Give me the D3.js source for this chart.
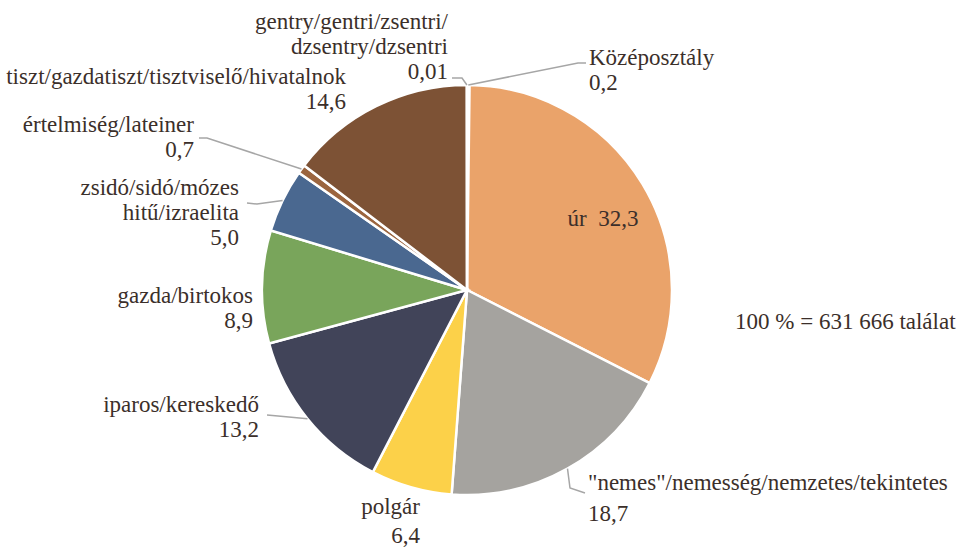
<!DOCTYPE html>
<meta charset="utf-8">
<html>
<head>
<style>
  body { margin: 0; background: #fff; }
</style>
<script src="https://d3js.org/d3.v7.min.js"></script>
</head>
<body>
<svg width="966" height="548"></svg>
<script>

// categories, clockwise from 12 o'clock
var categories = ["Középosztály", "úr", "\"nemes\"/nemesség/nemzetes/tekintetes", "polgár",
                  "iparos/kereskedő", "gazda/birtokos", "zsidó/sidó/mózes hitű/izraelita",
                  "értelmiség/lateiner", "tiszt/gazdatiszt/tisztviselő/hivatalnok",
                  "gentry/gentri/zsentri/dzsentry/dzsentri"];
var shares = [0.2, 32.3, 18.7, 6.4, 13.2, 8.9, 5.0, 0.7, 14.6, 0.01];
var valueLabels = ["0,2", "32,3", "18,7", "6,4", "13,2", "8,9", "5,0", "0,7", "14,6", "0,01"];
var colors = ["#f4f4f4", "#eaa36a", "#a5a39f", "#fcd149", "#414459", "#79a55b",
              "#4a6890", "#9b653f", "#7d5235", "#6b4a30"];
var totalNote = "100 % = 631 666 találat";

var serif = "'Liberation Serif', 'Times New Roman', Tinos, 'Noto Serif', 'DejaVu Serif', serif";

var svg = d3.select("svg"),
    cx = 467, cy = 290, radius = 205;

var pie = d3.pie().sort(null).value(function(d) { return d; });
var arc = d3.arc().innerRadius(0).outerRadius(radius);

var arcs = pie(shares);

var g = svg.append("g").attr("transform", "translate(" + cx + "," + cy + ")");

g.selectAll("path")
    .data(arcs)
    .enter().append("path")
    .attr("d", arc)
    .attr("fill", function(d, i) { return colors[i]; })
    .attr("stroke", "#fff")
    .attr("stroke-width", 2.5);

// label layout: name lines, anchor, first baseline, line gap, optional leader (label end, knee)
var labelLayout = [
  {lines: [categories[0], valueLabels[0]], x: 589, y: 65, lh: 25, anchor: "start", leader: [[586, 63], [578, 63]]},
  {lines: [categories[1] + "  " + valueLabels[1]], x: 603, y: 226, lh: 25, anchor: "middle"},
  {lines: [categories[2], valueLabels[2]], x: 588, y: 490, lh: 31, anchor: "start", leader: [[585, 493], [570, 488]]},
  {lines: [categories[3], valueLabels[3]], x: 420, y: 514, lh: 29, anchor: "end"},
  {lines: [categories[4], valueLabels[4]], x: 259, y: 412, lh: 25, anchor: "end", leader: [[267, 415], [278, 416]]},
  {lines: [categories[5], valueLabels[5]], x: 253, y: 303, lh: 25, anchor: "end"},
  {lines: ["zsidó/sidó/mózes", "hitű/izraelita", valueLabels[6]], x: 239, y: 195, lh: 25, anchor: "end", leader: [[247, 203], [257, 204]]},
  {lines: [categories[7], valueLabels[7]], x: 194, y: 132, lh: 25, anchor: "end", leader: [[199, 138], [207, 138]]},
  {lines: [categories[8], valueLabels[8]], x: 346, y: 84, lh: 25, anchor: "end"},
  {lines: ["gentry/gentri/zsentri/", "dzsentry/dzsentri", valueLabels[9]], x: 448, y: 29, lh: 25, anchor: "end", leader: [[452, 78], [462, 78]]}
];

// leader lines: label -> knee -> slice edge at mid angle
labelLayout.forEach(function(l, i) {
  if (!l.leader) return;
  var a = (arcs[i].startAngle + arcs[i].endAngle) / 2;
  var px = cx + radius * Math.sin(a), py = cy - radius * Math.cos(a);
  svg.append("path")
      .attr("d", d3.line()(l.leader.concat([[px, py]])))
      .attr("fill", "none")
      .attr("stroke", "#a6a6a6")
      .attr("stroke-width", 1.5);
});

labelLayout.forEach(function(l) {
  var t = svg.append("text")
      .attr("text-anchor", l.anchor)
      .style("font-family", serif)
      .attr("font-size", 23)
      .attr("fill", "#3b2f2a");
  l.lines.forEach(function(s, k) {
    t.append("tspan")
        .attr("x", l.x)
        .attr("y", l.y + k * l.lh)
        .style("white-space", "pre")
        .text(s);
  });
});

svg.append("text")
    .attr("x", 735)
    .attr("y", 329)
    .style("font-family", serif)
    .attr("font-size", 23)
    .attr("fill", "#3b2f2a")
    .text(totalNote);

</script>
</body>
</html>
